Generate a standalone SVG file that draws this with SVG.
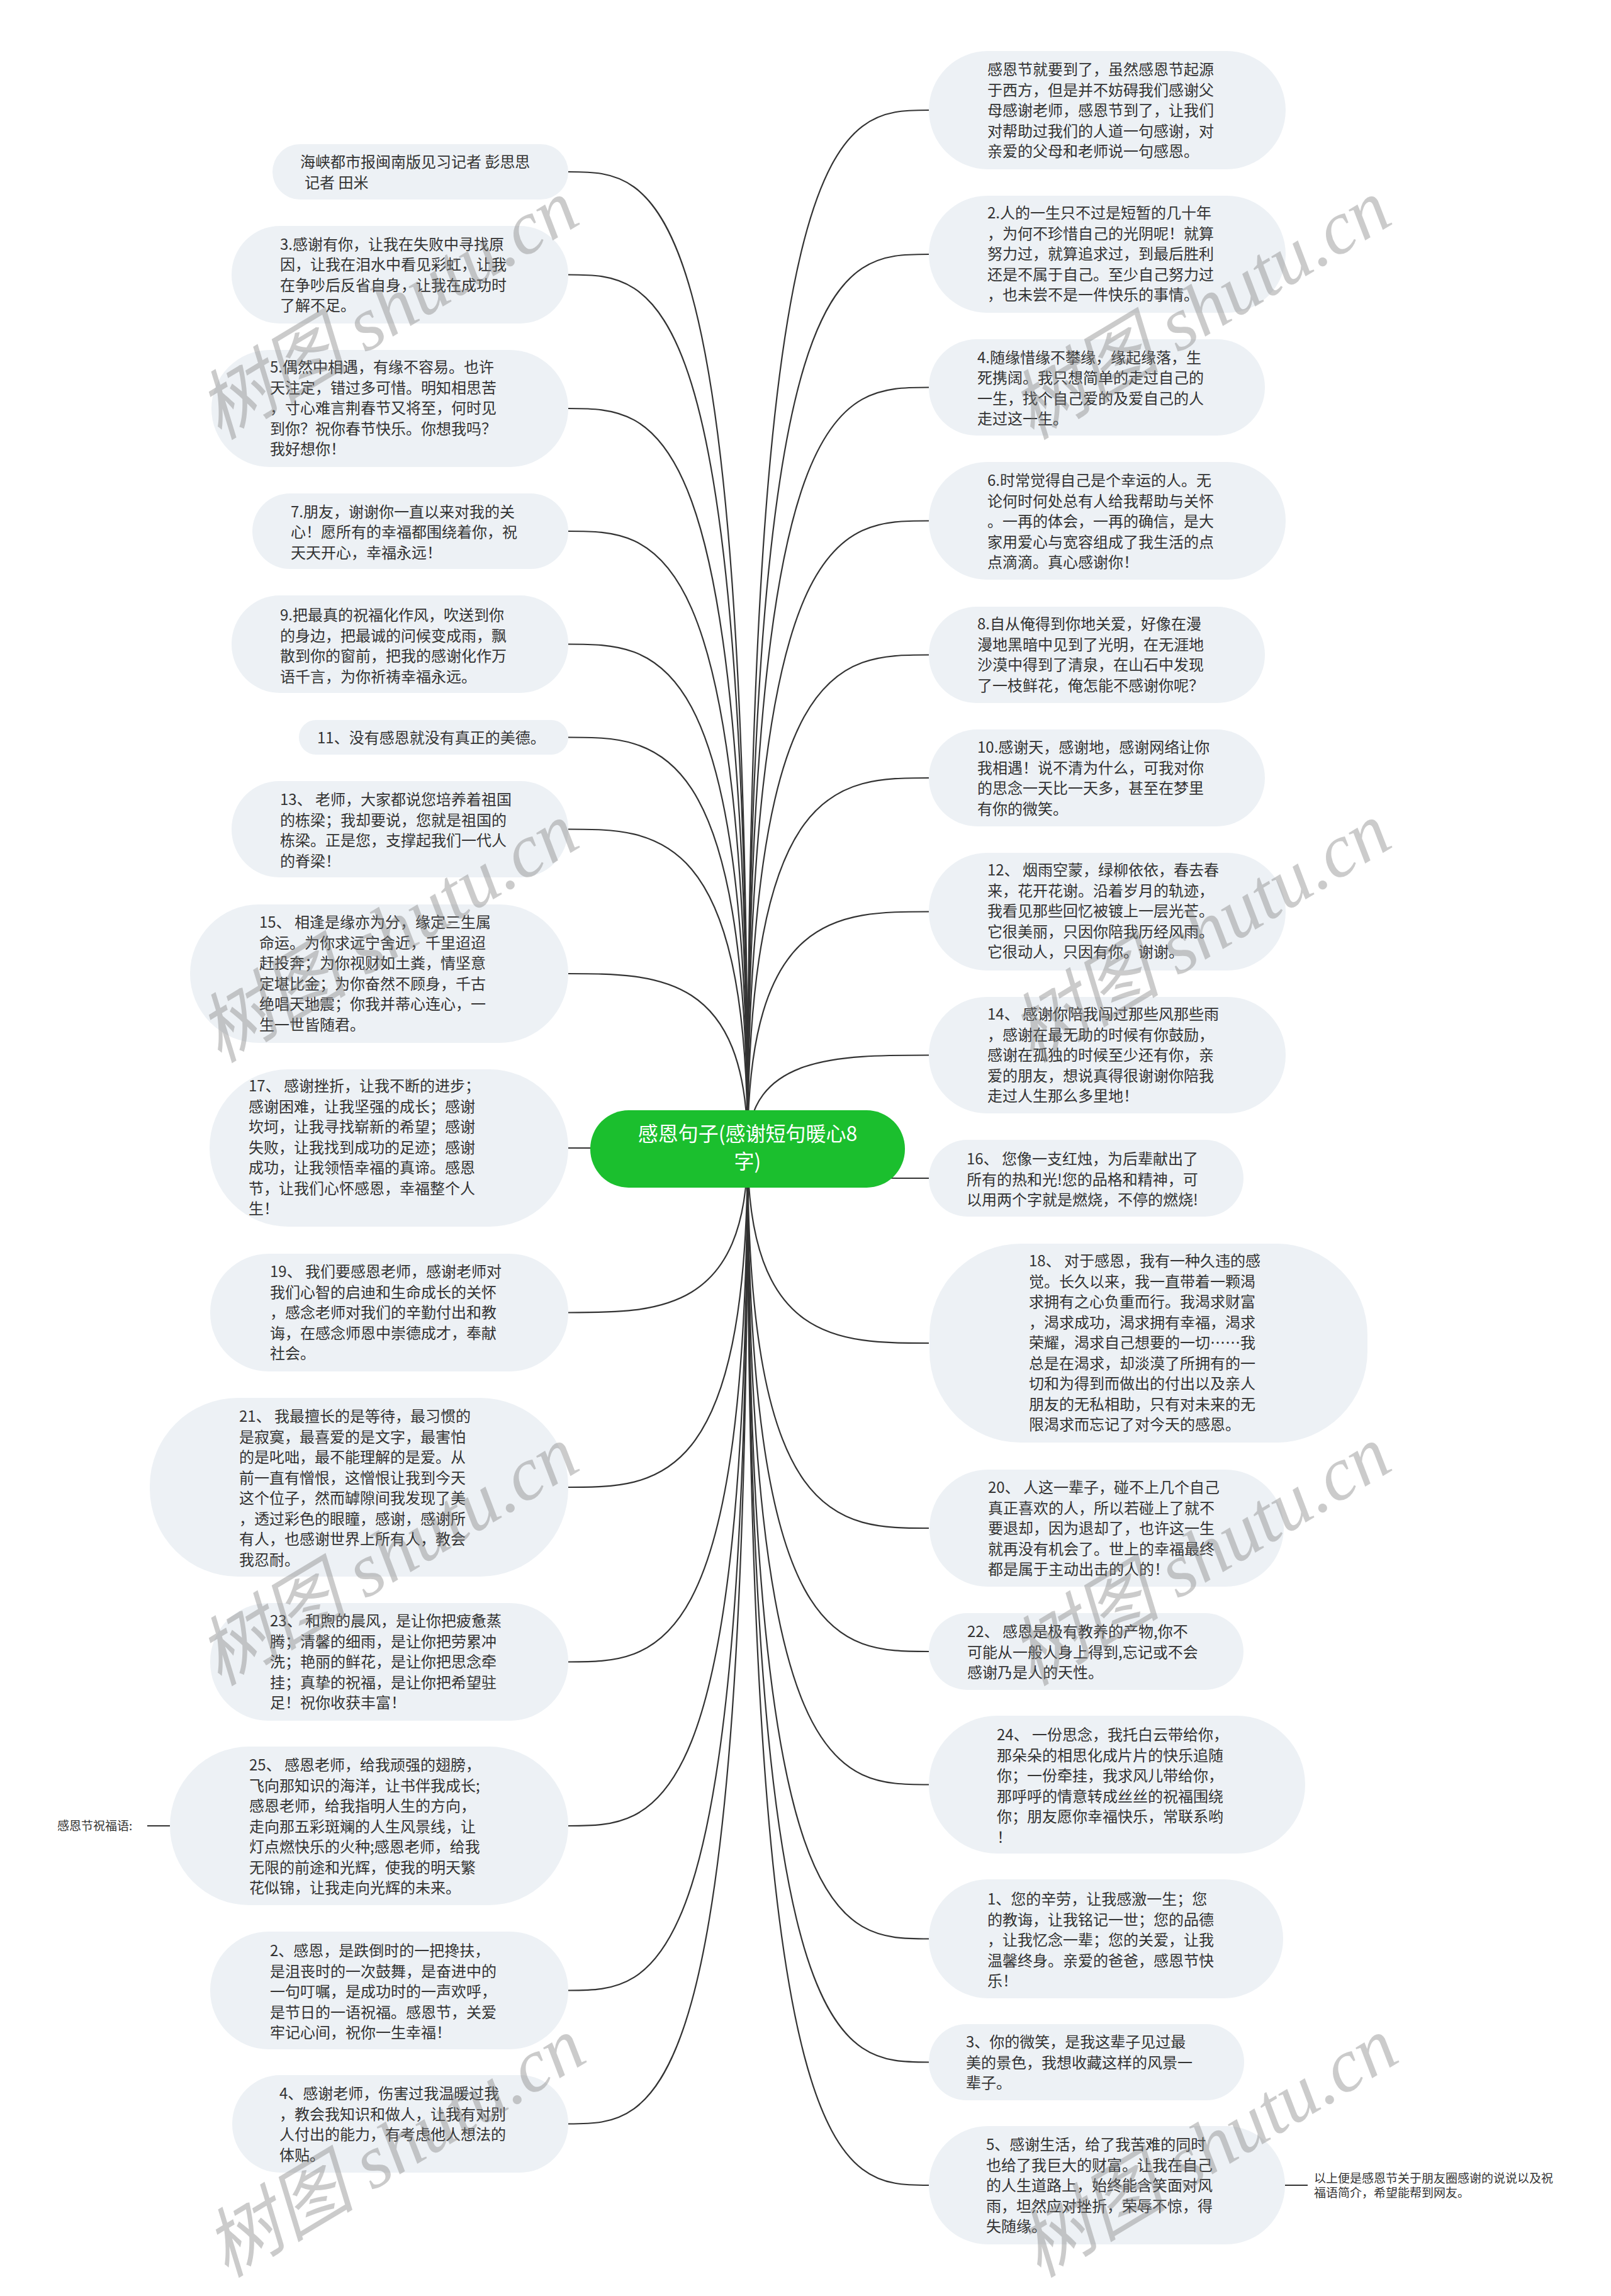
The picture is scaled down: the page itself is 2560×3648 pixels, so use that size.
<svg xmlns="http://www.w3.org/2000/svg" width="2560" height="3648" viewBox="0 0 2560 3648">
<style>
.bg{fill:#ffffff}
.node rect{fill:#edf1f5}
.t{font-family:"Noto Sans CJK SC","Liberation Sans",sans-serif;font-size:24px;fill:#333333}
.small{font-family:"Noto Sans CJK SC","Liberation Sans",sans-serif;font-size:19px;fill:#333333}
.rt{font-family:"Noto Sans CJK SC","Liberation Sans",sans-serif;font-size:32px;fill:#ffffff}
.conn path{fill:none;stroke:#333333;stroke-width:2.2}
.wm{font-family:"Liberation Serif","Noto Sans CJK SC",serif;font-style:italic;font-size:120px;fill:#808080;opacity:0.4}
</style>
<rect class="bg" x="0" y="0" width="2560" height="3648"/>
<g id="connectors" class="conn">
<path d="M1188 1825 C1188 273 1045.5 273 903 273"/>
<path d="M1188 1825 C1188 436.5 1045.5 436.5 903 436.5"/>
<path d="M1188 1825 C1188 649 1045.5 649 903 649"/>
<path d="M1188 1825 C1188 844 1045.5 844 903 844"/>
<path d="M1188 1825 C1188 1023.5 1045.5 1023.5 903 1023.5"/>
<path d="M1188 1825 C1188 1171.5 1045.5 1171.5 903 1171.5"/>
<path d="M1188 1825 C1188 1317.5 1045.5 1317.5 903 1317.5"/>
<path d="M1188 1825 C1188 1547 1045.5 1547 903 1547"/>
<path d="M1188 1825 C1188 1824 1045.5 1824 903 1824"/>
<path d="M1188 1825 C1188 2085.5 1045.5 2085.5 903 2085.5"/>
<path d="M1188 1825 C1188 2363 1045.5 2363 903 2363"/>
<path d="M1188 1825 C1188 2640.5 1045.5 2640.5 903 2640.5"/>
<path d="M1188 1825 C1188 2901 1045.5 2901 903 2901"/>
<path d="M1188 1825 C1188 3162.5 1045.5 3162.5 903 3162.5"/>
<path d="M1188 1825 C1188 3374.5 1045.5 3374.5 903 3374.5"/>
<path d="M1188 1825 C1188 175 1332 175 1476 175"/>
<path d="M1188 1825 C1188 404 1332 404 1476 404"/>
<path d="M1188 1825 C1188 615.5 1332 615.5 1476 615.5"/>
<path d="M1188 1825 C1188 827.5 1332 827.5 1476 827.5"/>
<path d="M1188 1825 C1188 1040.5 1332 1040.5 1476 1040.5"/>
<path d="M1188 1825 C1188 1236 1332 1236 1476 1236"/>
<path d="M1188 1825 C1188 1448.5 1332 1448.5 1476 1448.5"/>
<path d="M1188 1825 C1188 1676.5 1332 1676.5 1476 1676.5"/>
<path d="M1188 1825 C1188 1872 1332 1872 1476 1872"/>
<path d="M1188 1825 C1188 2134 1332 2134 1476 2134"/>
<path d="M1188 1825 C1188 2428 1332 2428 1476 2428"/>
<path d="M1188 1825 C1188 2624 1332 2624 1476 2624"/>
<path d="M1188 1825 C1188 2835.5 1332 2835.5 1476 2835.5"/>
<path d="M1188 1825 C1188 3080.5 1332 3080.5 1476 3080.5"/>
<path d="M1188 1825 C1188 3276.5 1332 3276.5 1476 3276.5"/>
<path d="M1188 1825 C1188 3472 1332 3472 1476 3472"/>
<path d="M270 2901 L234 2901"/>
<path d="M2042 3472 L2078 3472"/>
</g>
<g id="root">
<rect x="938" y="1764" width="500" height="123" rx="61" fill="#1bbf2e"/>
<text class="rt" x="1188" y="1813" text-anchor="middle">感恩句子(感谢短句暖心8</text>
<text class="rt" x="1188" y="1857" text-anchor="middle">字)</text>
</g>
<g id="nA" class="node"><rect x="433" y="229" width="470" height="88" rx="44"/>
<text class="t" x="477" y="266">海峡都市报闽南版见习记者 彭思思</text>
<text class="t" x="484" y="299">记者 田米</text></g>
<g id="n3" class="node"><rect x="368" y="359" width="535" height="155" rx="77"/>
<text class="t" x="445" y="396.5">3.感谢有你，让我在失败中寻找原</text>
<text class="t" x="445" y="429">因，让我在泪水中看见彩虹，让我</text>
<text class="t" x="445" y="461.5">在争吵后反省自身，让我在成功时</text>
<text class="t" x="445" y="494">了解不足。</text></g>
<g id="n5" class="node"><rect x="336" y="556" width="567" height="186" rx="93"/>
<text class="t" x="429" y="592">5.偶然中相遇，有缘不容易。也许</text>
<text class="t" x="429" y="624.5">天注定，错过多可惜。明知相思苦</text>
<text class="t" x="429" y="657">，寸心难言荆春节又将至，何时见</text>
<text class="t" x="429" y="689.5">到你？祝你春节快乐。你想我吗？</text>
<text class="t" x="429" y="722">我好想你！</text></g>
<g id="n7" class="node"><rect x="401" y="784" width="502" height="120" rx="60"/>
<text class="t" x="462" y="821.5">7.朋友，谢谢你一直以来对我的关</text>
<text class="t" x="462" y="854">心！愿所有的幸福都围绕着你，祝</text>
<text class="t" x="462" y="886.5">天天开心，幸福永远！</text></g>
<g id="n9" class="node"><rect x="368" y="946" width="535" height="155" rx="77"/>
<text class="t" x="445" y="986">9.把最真的祝福化作风，吹送到你</text>
<text class="t" x="445" y="1018.5">的身边，把最诚的问候变成雨，飘</text>
<text class="t" x="445" y="1051">散到你的窗前，把我的感谢化作万</text>
<text class="t" x="445" y="1083.5">语千言，为你祈祷幸福永远。</text></g>
<g id="n11" class="node"><rect x="475" y="1144" width="428" height="55" rx="27"/>
<text class="t" x="504" y="1181">11、没有感恩就没有真正的美德。</text></g>
<g id="n13" class="node"><rect x="368" y="1241" width="535" height="153" rx="76"/>
<text class="t" x="445" y="1279">13、 老师，大家都说您培养着祖国</text>
<text class="t" x="445" y="1311.5">的栋梁；我却要说，您就是祖国的</text>
<text class="t" x="445" y="1344">栋梁。正是您，支撑起我们一代人</text>
<text class="t" x="445" y="1376.5">的脊梁！</text></g>
<g id="n15" class="node"><rect x="302" y="1437" width="601" height="220" rx="110"/>
<text class="t" x="412" y="1474">15、 相逢是缘亦为分，缘定三生属</text>
<text class="t" x="412" y="1506.5">命运。为你求远宁舍近，千里迢迢</text>
<text class="t" x="412" y="1539">赶投奔；为你视财如土粪，情坚意</text>
<text class="t" x="412" y="1571.5">定堪比金；为你奋然不顾身，千古</text>
<text class="t" x="412" y="1604">绝唱天地震；你我并蒂心连心，一</text>
<text class="t" x="412" y="1636.5">生一世皆随君。</text></g>
<g id="n17" class="node"><rect x="333" y="1699" width="570" height="250" rx="125"/>
<text class="t" x="395" y="1734">17、 感谢挫折，让我不断的进步；</text>
<text class="t" x="395" y="1766.5">感谢困难，让我坚强的成长；感谢</text>
<text class="t" x="395" y="1799">坎坷，让我寻找崭新的希望；感谢</text>
<text class="t" x="395" y="1831.5">失败，让我找到成功的足迹；感谢</text>
<text class="t" x="395" y="1864">成功，让我领悟幸福的真谛。感恩</text>
<text class="t" x="395" y="1896.5">节，让我们心怀感恩，幸福整个人</text>
<text class="t" x="395" y="1929">生！</text></g>
<g id="n19" class="node"><rect x="334" y="1992" width="569" height="187" rx="93"/>
<text class="t" x="429" y="2029">19、 我们要感恩老师，感谢老师对</text>
<text class="t" x="429" y="2061.5">我们心智的启迪和生命成长的关怀</text>
<text class="t" x="429" y="2094">，感念老师对我们的辛勤付出和教</text>
<text class="t" x="429" y="2126.5">诲，在感念师恩中崇德成才，奉献</text>
<text class="t" x="429" y="2159">社会。</text></g>
<g id="n21" class="node"><rect x="238" y="2221" width="665" height="284" rx="140"/>
<text class="t" x="380" y="2259">21、 我最擅长的是等待，最习惯的</text>
<text class="t" x="380" y="2291.5">是寂寞，最喜爱的是文字，最害怕</text>
<text class="t" x="380" y="2324">的是叱咄，最不能理解的是爱。从</text>
<text class="t" x="380" y="2356.5">前一直有憎恨，这憎恨让我到今天</text>
<text class="t" x="380" y="2389">这个位子，然而罅隙间我发现了美</text>
<text class="t" x="380" y="2421.5">，透过彩色的眼瞳，感谢，感谢所</text>
<text class="t" x="380" y="2454">有人，也感谢世界上所有人，教会</text>
<text class="t" x="380" y="2486.5">我忍耐。</text></g>
<g id="n23" class="node"><rect x="334" y="2547" width="569" height="187" rx="93"/>
<text class="t" x="429" y="2584">23、 和煦的晨风，是让你把疲惫蒸</text>
<text class="t" x="429" y="2616.5">腾；清馨的细雨，是让你把劳累冲</text>
<text class="t" x="429" y="2649">洗；艳丽的鲜花，是让你把思念牵</text>
<text class="t" x="429" y="2681.5">挂；真挚的祝福，是让你把希望驻</text>
<text class="t" x="429" y="2714">足！祝你收获丰富！</text></g>
<g id="n25" class="node"><rect x="270" y="2775" width="633" height="252" rx="126"/>
<text class="t" x="396" y="2813">25、 感恩老师，给我顽强的翅膀，</text>
<text class="t" x="396" y="2845.5">飞向那知识的海洋，让书伴我成长;</text>
<text class="t" x="396" y="2878">感恩老师，给我指明人生的方向，</text>
<text class="t" x="396" y="2910.5">走向那五彩斑斓的人生风景线，让</text>
<text class="t" x="396" y="2943">灯点燃快乐的火种;感恩老师，给我</text>
<text class="t" x="396" y="2975.5">无限的前途和光辉，使我的明天繁</text>
<text class="t" x="396" y="3008">花似锦，让我走向光辉的未来。</text></g>
<g id="n25label"><text class="small" x="91" y="2908">感恩节祝福语:</text></g>
<g id="n2" class="node"><rect x="334" y="3069" width="569" height="187" rx="93"/>
<text class="t" x="429" y="3108">2、感恩，是跌倒时的一把搀扶，</text>
<text class="t" x="429" y="3140.5">是沮丧时的一次鼓舞，是奋进中的</text>
<text class="t" x="429" y="3173">一句叮嘱，是成功时的一声欢呼，</text>
<text class="t" x="429" y="3205.5">是节日的一语祝福。感恩节，关爱</text>
<text class="t" x="429" y="3238">牢记心间，祝你一生幸福！</text></g>
<g id="n4" class="node"><rect x="369" y="3297" width="534" height="155" rx="77"/>
<text class="t" x="444" y="3335">4、感谢老师，伤害过我温暖过我</text>
<text class="t" x="444" y="3367.5">，教会我知识和做人，让我有对别</text>
<text class="t" x="444" y="3400">人付出的能力，有考虑他人想法的</text>
<text class="t" x="444" y="3432.5">体贴。</text></g>
<g id="r1" class="node"><rect x="1476" y="81" width="567" height="188" rx="94"/>
<text class="t" x="1569" y="119">感恩节就要到了，虽然感恩节起源</text>
<text class="t" x="1569" y="151.5">于西方，但是并不妨碍我们感谢父</text>
<text class="t" x="1569" y="184">母感谢老师，感恩节到了，让我们</text>
<text class="t" x="1569" y="216.5">对帮助过我们的人道一句感谢，对</text>
<text class="t" x="1569" y="249">亲爱的父母和老师说一句感恩。</text></g>
<g id="r2" class="node"><rect x="1476" y="311" width="567" height="186" rx="93"/>
<text class="t" x="1569" y="347">2.人的一生只不过是短暂的几十年</text>
<text class="t" x="1569" y="379.5">，为何不珍惜自己的光阴呢！就算</text>
<text class="t" x="1569" y="412">努力过，就算追求过，到最后胜利</text>
<text class="t" x="1569" y="444.5">还是不属于自己。至少自己努力过</text>
<text class="t" x="1569" y="477">，也未尝不是一件快乐的事情。</text></g>
<g id="r4" class="node"><rect x="1476" y="539" width="534" height="153" rx="76"/>
<text class="t" x="1553" y="576.5">4.随缘惜缘不攀缘，缘起缘落，生</text>
<text class="t" x="1553" y="609">死携阔。我只想简单的走过自己的</text>
<text class="t" x="1553" y="641.5">一生，找个自己爱的及爱自己的人</text>
<text class="t" x="1553" y="674">走过这一生。</text></g>
<g id="r6" class="node"><rect x="1476" y="734" width="567" height="187" rx="93"/>
<text class="t" x="1569" y="772">6.时常觉得自己是个幸运的人。无</text>
<text class="t" x="1569" y="804.5">论何时何处总有人给我帮助与关怀</text>
<text class="t" x="1569" y="837">。一再的体会，一再的确信，是大</text>
<text class="t" x="1569" y="869.5">家用爱心与宽容组成了我生活的点</text>
<text class="t" x="1569" y="902">点滴滴。真心感谢你！</text></g>
<g id="r8" class="node"><rect x="1476" y="964" width="534" height="153" rx="76"/>
<text class="t" x="1553" y="1000">8.自从俺得到你地关爱，好像在漫</text>
<text class="t" x="1553" y="1032.5">漫地黑暗中见到了光明，在无涯地</text>
<text class="t" x="1553" y="1065">沙漠中得到了清泉，在山石中发现</text>
<text class="t" x="1553" y="1097.5">了一枝鲜花，俺怎能不感谢你呢？</text></g>
<g id="r10" class="node"><rect x="1476" y="1159" width="534" height="154" rx="77"/>
<text class="t" x="1553" y="1196">10.感谢天，感谢地，感谢网络让你</text>
<text class="t" x="1553" y="1228.5">我相遇！说不清为什么，可我对你</text>
<text class="t" x="1553" y="1261">的思念一天比一天多，甚至在梦里</text>
<text class="t" x="1553" y="1293.5">有你的微笑。</text></g>
<g id="r12" class="node"><rect x="1476" y="1355" width="567" height="187" rx="93"/>
<text class="t" x="1569" y="1391">12、 烟雨空蒙，绿柳依依，春去春</text>
<text class="t" x="1569" y="1423.5">来，花开花谢。沿着岁月的轨迹，</text>
<text class="t" x="1569" y="1456">我看见那些回忆被镀上一层光芒。</text>
<text class="t" x="1569" y="1488.5">它很美丽，只因你陪我历经风雨。</text>
<text class="t" x="1569" y="1521">它很动人，只因有你。谢谢。</text></g>
<g id="r14" class="node"><rect x="1476" y="1584" width="567" height="185" rx="92"/>
<text class="t" x="1569" y="1620">14、 感谢你陪我闯过那些风那些雨</text>
<text class="t" x="1569" y="1652.5">，感谢在最无助的时候有你鼓励，</text>
<text class="t" x="1569" y="1685">感谢在孤独的时候至少还有你，亲</text>
<text class="t" x="1569" y="1717.5">爱的朋友，想说真得很谢谢你陪我</text>
<text class="t" x="1569" y="1750">走过人生那么多里地！</text></g>
<g id="r16" class="node"><rect x="1476" y="1811" width="500" height="122" rx="61"/>
<text class="t" x="1536" y="1850">16、 您像一支红烛，为后辈献出了</text>
<text class="t" x="1536" y="1882.5">所有的热和光!您的品格和精神，可</text>
<text class="t" x="1536" y="1915">以用两个字就是燃烧，不停的燃烧!</text></g>
<g id="r18" class="node"><rect x="1477" y="1976" width="696" height="316" rx="145"/>
<text class="t" x="1635" y="2012">18、 对于感恩，我有一种久违的感</text>
<text class="t" x="1635" y="2044.5">觉。长久以来，我一直带着一颗渴</text>
<text class="t" x="1635" y="2077">求拥有之心负重而行。我渴求财富</text>
<text class="t" x="1635" y="2109.5">，渴求成功，渴求拥有幸福，渴求</text>
<text class="t" x="1635" y="2142">荣耀，渴求自己想要的一切……我</text>
<text class="t" x="1635" y="2174.5">总是在渴求，却淡漠了所拥有的一</text>
<text class="t" x="1635" y="2207">切和为得到而做出的付出以及亲人</text>
<text class="t" x="1635" y="2239.5">朋友的无私相助，只有对未来的无</text>
<text class="t" x="1635" y="2272">限渴求而忘记了对今天的感恩。</text></g>
<g id="r20" class="node"><rect x="1477" y="2335" width="563" height="186" rx="93"/>
<text class="t" x="1570" y="2372">20、 人这一辈子，碰不上几个自己</text>
<text class="t" x="1570" y="2404.5">真正喜欢的人，所以若碰上了就不</text>
<text class="t" x="1570" y="2437">要退却，因为退却了，也许这一生</text>
<text class="t" x="1570" y="2469.5">就再没有机会了。世上的幸福最终</text>
<text class="t" x="1570" y="2502">都是属于主动出击的人的！</text></g>
<g id="r22" class="node"><rect x="1476" y="2563" width="500" height="122" rx="61"/>
<text class="t" x="1537" y="2601">22、 感恩是极有教养的产物,你不</text>
<text class="t" x="1537" y="2633.5">可能从一般人身上得到,忘记或不会</text>
<text class="t" x="1537" y="2666">感谢乃是人的天性。</text></g>
<g id="r24" class="node"><rect x="1476" y="2726" width="598" height="219" rx="109"/>
<text class="t" x="1584" y="2765">24、 一份思念，我托白云带给你，</text>
<text class="t" x="1584" y="2797.5">那朵朵的相思化成片片的快乐追随</text>
<text class="t" x="1584" y="2830">你；一份牵挂，我求风儿带给你，</text>
<text class="t" x="1584" y="2862.5">那呼呼的情意转成丝丝的祝福围绕</text>
<text class="t" x="1584" y="2895">你；朋友愿你幸福快乐，常联系哟</text>
<text class="t" x="1584" y="2927.5">！</text></g>
<g id="r1b" class="node"><rect x="1476" y="2986" width="563" height="189" rx="94"/>
<text class="t" x="1569" y="3026">1、您的辛劳，让我感激一生；您</text>
<text class="t" x="1569" y="3058.5">的教诲，让我铭记一世；您的品德</text>
<text class="t" x="1569" y="3091">，让我忆念一辈；您的关爱，让我</text>
<text class="t" x="1569" y="3123.5">温馨终身。亲爱的爸爸，感恩节快</text>
<text class="t" x="1569" y="3156">乐！</text></g>
<g id="r3b" class="node"><rect x="1476" y="3216" width="501" height="121" rx="60"/>
<text class="t" x="1535" y="3253">3、你的微笑，是我这辈子见过最</text>
<text class="t" x="1535" y="3285.5">美的景色，我想收藏这样的风景一</text>
<text class="t" x="1535" y="3318">辈子。</text></g>
<g id="r5b" class="node"><rect x="1476" y="3378" width="566" height="188" rx="94"/>
<text class="t" x="1567" y="3416">5、感谢生活，给了我苦难的同时</text>
<text class="t" x="1567" y="3448.5">也给了我巨大的财富。让我在自己</text>
<text class="t" x="1567" y="3481">的人生道路上，始终能含笑面对风</text>
<text class="t" x="1567" y="3513.5">雨，坦然应对挫折，荣辱不惊，得</text>
<text class="t" x="1567" y="3546">失随缘。</text></g>
<g id="r5bnote">
<text class="small" x="2088" y="3468">以上便是感恩节关于朋友圈感谢的说说以及祝</text>
<text class="small" x="2088" y="3491">福语简介，希望能帮到网友。</text></g>
<g id="watermarks">
<text class="wm" transform="translate(349,700) rotate(-31)">树图 shutu.cn</text>
<text class="wm" transform="translate(349,1690) rotate(-31)">树图 shutu.cn</text>
<text class="wm" transform="translate(349,2680) rotate(-31)">树图 shutu.cn</text>
<text class="wm" transform="translate(360,3620) rotate(-31)">树图 shutu.cn</text>
<text class="wm" transform="translate(1640,700) rotate(-31)">树图 shutu.cn</text>
<text class="wm" transform="translate(1640,1690) rotate(-31)">树图 shutu.cn</text>
<text class="wm" transform="translate(1640,2680) rotate(-31)">树图 shutu.cn</text>
<text class="wm" transform="translate(1651,3620) rotate(-31)">树图 shutu.cn</text>
</g>
</svg>
